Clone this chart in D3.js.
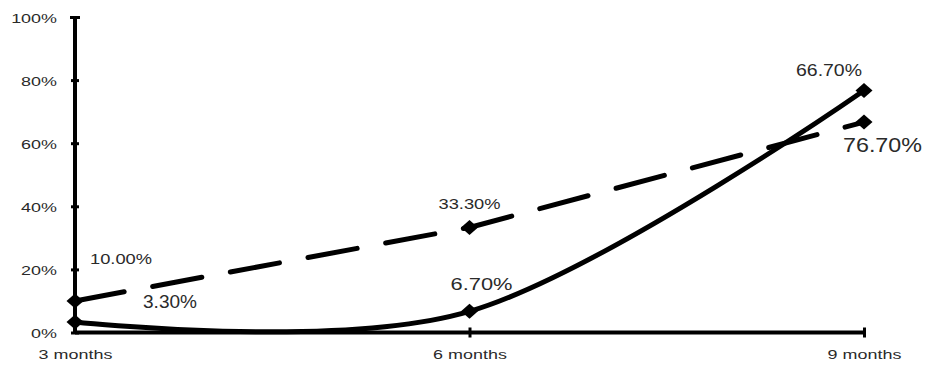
<!DOCTYPE html>
<html>
<head>
<meta charset="utf-8">
<script src="https://cdn.jsdelivr.net/npm/d3@7"></script>
<style>
  html, body { margin: 0; padding: 0; background: #fff; }
  svg { display: block; }
  text { font-family: "Liberation Sans", Arial, sans-serif; fill: #2a2a2a; }
</style>
</head>
<body>
<svg id="chart" width="927" height="367"></svg>
<script>
// ---- data ----
const categories = ["3 months", "6 months", "9 months"];
const solidValues = [3.3, 6.7, 76.7];
const dashedValues = [10.0, 33.3, 66.7];
const yTickValues = [0, 20, 40, 60, 80, 100];
const solidLabels = ["3.30%", "6.70%", "66.70%"];
const dashedLabels = ["10.00%", "33.30%", "76.70%"];

// ---- layout ----
const svg = d3.select("#chart");
const x = d3.scalePoint().domain(categories).range([75, 864]);
const y = d3.scaleLinear().domain([0, 100]).range([332.5, 17]);
const stretch = 1.38;

// y axis
const yAxis = svg.append("g").attr("transform", `translate(${x(categories[0])},0)`)
  .call(d3.axisLeft(y).tickValues(yTickValues).tickSize(0).tickPadding(0).tickFormat(d => d + "%"));
yAxis.select(".domain").remove();
yAxis.selectAll(".tick text").remove();
yAxis.append("line").attr("x1", 0).attr("x2", 0).attr("y1", y(100)).attr("y2", y(0))
  .attr("stroke", "#000").attr("stroke-width", 4);
yAxis.selectAll(".tick").append("line")
  .attr("x1", d => d === 100 ? -5 : -4).attr("x2", d => d === 100 ? 5 : 4)
  .attr("stroke", "#000").attr("stroke-width", 3);
yAxis.selectAll(".tick").append("text")
  .attr("transform", `translate(-18,5) scale(${stretch},1)`)
  .attr("text-anchor", "end")
  .style("font-size", "13px")
  .text(d => d + "%");

// x axis
const xAxis = svg.append("g").attr("transform", `translate(0,${y(0)})`)
  .call(d3.axisBottom(x).tickSize(0).tickPadding(0));
xAxis.select(".domain").remove();
xAxis.selectAll(".tick text").remove();
xAxis.append("line").attr("x1", x(categories[0])).attr("x2", x(categories[2]))
  .attr("stroke", "#000").attr("stroke-width", 4);
xAxis.selectAll(".tick").filter((d, i) => i > 0).append("line")
  .attr("y1", -5).attr("y2", 5).attr("stroke", "#000").attr("stroke-width", 3);
xAxis.selectAll(".tick").append("text")
  .attr("transform", `translate(0,26.5) scale(${stretch},1)`)
  .attr("text-anchor", "middle")
  .style("font-size", "13px")
  .text(d => d);

// series lines
const dashedPts = categories.map((c, i) => [x(c), y(dashedValues[i])]);
const solidPts = categories.map((c, i) => [x(c), y(solidValues[i])]);

svg.append("path")
  .attr("d", d3.line().curve(d3.curveLinear)(dashedPts))
  .attr("fill", "none").attr("stroke", "#000").attr("stroke-width", 5)
  .attr("stroke-linecap", "round").attr("stroke-dasharray", "50,29");

svg.append("path")
  .attr("d", d3.line().curve(d3.curveCardinal.tension(0))(solidPts))
  .attr("fill", "none").attr("stroke", "#000").attr("stroke-width", 5)
  .attr("stroke-linecap", "round");

// diamond markers
const diamond = "M0,-7.5L8.5,0L0,7.5L-8.5,0Z";
svg.selectAll("path.mk").data(dashedPts.concat(solidPts)).enter().append("path")
  .attr("class", "mk").attr("d", diamond)
  .attr("transform", d => `translate(${d[0]},${d[1]})`)
  .attr("fill", "#000");

// data labels: [dx from point (left edge), dy from point (baseline), font size, rendered width]
const dashedLabelStyle = [[15, -37, 15, 62], [-31, -18.5, 15, 62], [-21, 29.5, 20, 79]];
const solidLabelStyle = [[68, -14, 18, 54], [-19, -21.5, 16, 62], [-68, -15, 16, 66]];

function addLabels(pts, texts, styles) {
  svg.append("g").selectAll("text").data(texts).enter().append("text")
    .attr("x", (d, i) => pts[i][0] + styles[i][0])
    .attr("y", (d, i) => pts[i][1] + styles[i][1])
    .style("font-size", (d, i) => styles[i][2] + "px")
    .attr("textLength", (d, i) => styles[i][3])
    .attr("lengthAdjust", "spacingAndGlyphs")
    .text(d => d);
}
addLabels(dashedPts, dashedLabels, dashedLabelStyle);
addLabels(solidPts, solidLabels, solidLabelStyle);
</script>
</body>
</html>
